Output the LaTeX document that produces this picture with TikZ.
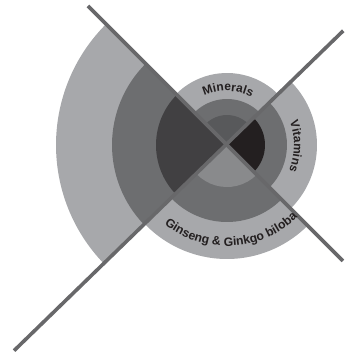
\documentclass[tikz,border=0pt]{standalone}
\usepackage{fontspec}
\setmainfont{Liberation Sans}
\usetikzlibrary{decorations.text,calc}
\definecolor{ringlight}{RGB}{167,168,171}
\definecolor{ringmid}{RGB}{109,110,112}
\definecolor{leftdark}{RGB}{65,64,66}
\definecolor{topin}{RGB}{88,89,91}
\definecolor{rightin}{RGB}{35,31,32}
\definecolor{bottomin}{RGB}{137,138,140}
\definecolor{axisline}{RGB}{104,104,106}
\definecolor{labelink}{RGB}{35,31,32}
\tikzset{
  axisbar/.style={draw=axisline, line width=3.6pt},
  arclabel/.style={decorate, decoration={text along path, text align=center, text color=labelink}}
}
\newcommand{\mysector}[4]{\fill[#1] (O) -- ([shift={(#2:#4)}]O) arc[start angle=#2, end angle=#3, radius=#4] -- cycle;}
\begin{document}
\begin{tikzpicture}[x=1pt,y=1pt]
\useasboundingbox (0,0) rectangle (345,-360);
\coordinate (O) at (227,-145);
% left quadrant
\mysector{ringlight}{135}{224}{171}
\mysector{ringmid}{135}{224}{115}
\mysector{leftdark}{135}{224}{71}
% top quadrant
\mysector{ringlight}{44}{135}{72}
\mysector{ringmid}{44}{135}{46}
\mysector{topin}{44}{135}{30}
% bottom quadrant
\mysector{ringlight}{224}{315}{114}
\mysector{ringmid}{224}{315}{77}
\mysector{bottomin}{224}{315}{42}
% right quadrant
\mysector{ringlight}{-45}{44}{90}
\mysector{ringmid}{-45}{44}{60}
\mysector{rightin}{-45}{44}{38}
% axes
\coordinate (L1a) at ([shift={(135:196.6)}]O);
\coordinate (L1b) at ([shift={(-45:164)}]O);
\coordinate (L2a) at ([shift={(44.5:163)}]O);
\coordinate (L2b) at ([shift={(224:296)}]O);
\draw[axisbar] (L1a) -- (L1b);
\draw[axisbar] (L2a) -- (L2b);
% labels
\path[arclabel, decoration={text={|\bfseries\fontsize{12}{14}\selectfont|Minerals}}]
  ([shift={(130:54)}]O) arc[start angle=130, end angle=48, radius=54];
\path[arclabel, decoration={text={|\bfseries\fontsize{12}{14}\selectfont|Vitamins}}]
  ([shift={(39:67)}]O) arc[start angle=39, end angle=-41, radius=67];
\path[arclabel, decoration={text={|\bfseries\fontsize{12.2}{14}\selectfont|Ginseng {\&} Ginkgo biloba}}]
  ([shift={(196:101)}]O) arc[start angle=196, end angle=350, radius=101];
\end{tikzpicture}
\end{document}
